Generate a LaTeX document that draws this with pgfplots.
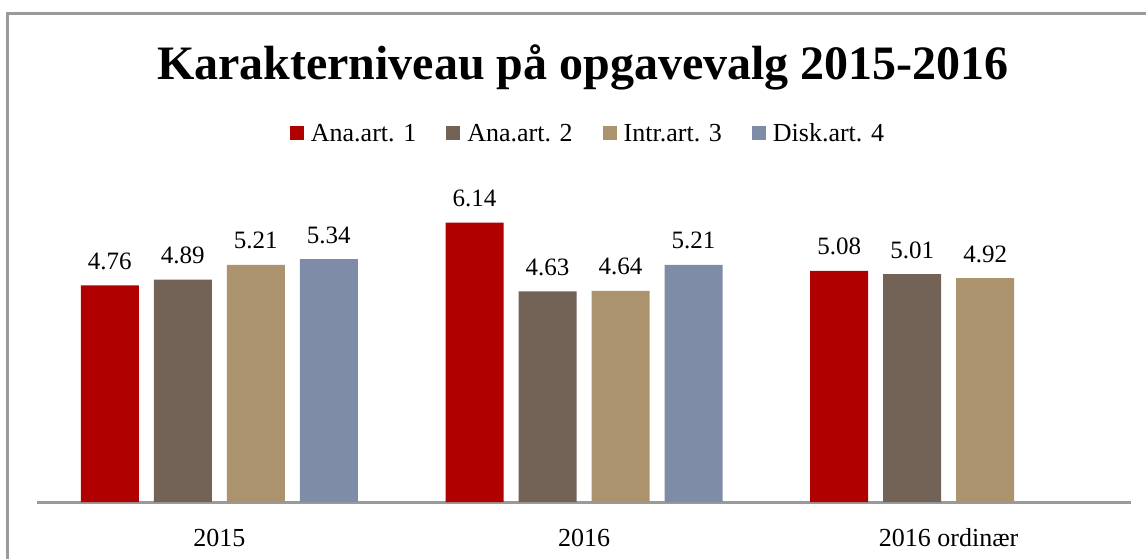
\documentclass[border=0pt]{standalone}
\usepackage{pgfplots}
\pgfplotsset{compat=1.18}
\usepackage{fontspec}
\setmainfont{Liberation Serif}
\definecolor{c1}{HTML}{B00000}
\definecolor{c2}{HTML}{736357}
\definecolor{c3}{HTML}{AB936E}
\definecolor{c4}{HTML}{7F8CA8}
\definecolor{framegray}{HTML}{9A9A9A}
\begin{document}
\begin{tikzpicture}
\path[use as bounding box] (-18.5pt,-28pt) rectangle (554.5pt,251pt);
\draw[framegray, line width=1.5pt] (575pt,244pt) -- (-14.5pt,244pt) -- (-14.5pt,-45pt);
\node[font=\fontsize{24}{28}\selectfont\bfseries, anchor=base] at (273pt,211pt) {Karakterniveau på opgavevalg 2015-2016};
\begin{axis}[
  at={(0pt,0pt)}, anchor=south west,
  scale only axis, width=547pt, height=182pt,
  xmin=-0.5, xmax=2.5, ymin=0, ymax=8,
  axis x line=bottom, axis y line=none,
  x axis line style={-, draw=framegray, line width=1.5pt},
  xtick={0,1,2}, xticklabels={2015,2016,2016 ordinær},
  major tick length=0pt,
  xticklabel style={font=\fontsize{13}{15}\selectfont, anchor=base, yshift=-22pt},
  ybar=7.5pt, bar width=29pt,
  nodes near coords,
  nodes near coords style={font=\fontsize{12.5}{15}\selectfont, anchor=base, yshift=8pt, text=black},
  point meta=explicit symbolic,
  clip=false,
  legend columns=4,
  legend style={at={(0.5046,1.011)}, anchor=center, draw=none, fill=none,
    font=\fontsize{13}{15}\selectfont,
    /tikz/every even column/.append style={column sep=13pt},
    /tikz/every odd column/.append style={column sep=1.5pt}},
  legend image code/.code={\fill[#1] (0pt,-3pt) rectangle (7pt,4pt);},
]
\addplot[fill=c1, draw=none] coordinates {(0,4.76)[4.76] (1,6.14)[6.14] (2,5.08)[5.08]};
\addplot[fill=c2, draw=none] coordinates {(0,4.89)[4.89] (1,4.63)[4.63] (2,5.01)[5.01]};
\addplot[fill=c3, draw=none] coordinates {(0,5.21)[5.21] (1,4.64)[4.64] (2,4.92)[4.92]};
\addplot[fill=c4, draw=none] coordinates {(0,5.34)[5.34] (1,5.21)[5.21]};
\legend{Ana.art. 1, Ana.art. 2, Intr.art. 3, Disk.art. 4}
\end{axis}
\end{tikzpicture}
\end{document}
